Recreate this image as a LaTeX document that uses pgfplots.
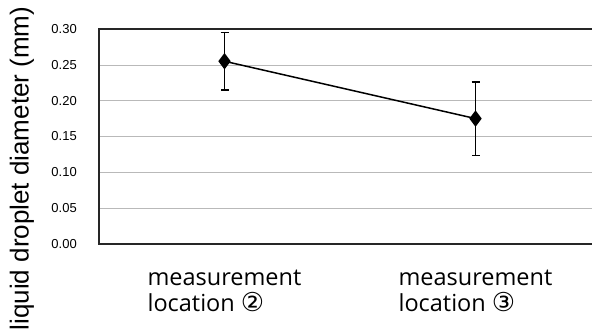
\documentclass[border=0pt]{standalone}
\usepackage{fontspec}
\usepackage{pgfplots}
\pgfplotsset{compat=1.18}
\setmainfont{Liberation Sans}
\newfontfamily\labelfont{Open Sans}
\newfontfamily\symfont{DejaVu Sans}
\begin{document}
\begin{tikzpicture}
\begin{axis}[
  at={(99pt,87pt)}, anchor=south west,
  scale only axis, width=502pt, height=215pt,
  xmin=0.5, xmax=2.5, ymin=0, ymax=0.3,
  xtick={1,2},
  xticklabels={{measurement\\location {\symfont\fontsize{26}{26}\selectfont ②}}, {measurement\\location {\symfont\fontsize{26}{26}\selectfont ③}}},
  ytick={0,0.05,0.10,0.15,0.20,0.25,0.30},
  tick style={draw=none},
  /pgf/number format/assume math mode=true,
  yticklabel style={/pgf/number format/fixed, /pgf/number format/fixed zerofill,
    /pgf/number format/precision=2, font=\fontsize{13}{15}\selectfont,
    inner sep=0pt, xshift=-22pt},
  xticklabel style={font=\labelfont\fontsize{23.5}{26}\selectfont, align=left,
    anchor=north, inner sep=0pt, yshift=-26pt},
  ymajorgrids, major grid style={gray!55, line width=0.6pt},
  axis line style={black!85, line width=1.2pt},
  ylabel={liquid droplet diameter (mm)},
  every axis y label/.style={at={(axis description cs:-0.1534,1.105)},
    rotate=90, anchor=east, inner sep=0pt, font=\fontsize{26}{30}\selectfont},
]
\addplot[black, line width=1.5pt, mark=diamond*, mark size=7pt,
  mark options={fill=black},
  error bars/.cd, y dir=both, y explicit,
  error bar style={line width=1.2pt, black},
  error mark options={rotate=90, mark size=4pt, line width=1.2pt, black}]
  coordinates {
    (1, 0.255) +- (0, 0.040)
    (2, 0.175) +- (0, 0.051)
  };
\end{axis}
\pgfresetboundingbox
\useasboundingbox (0pt,0pt) rectangle (592pt,331pt);
\end{tikzpicture}
\end{document}
